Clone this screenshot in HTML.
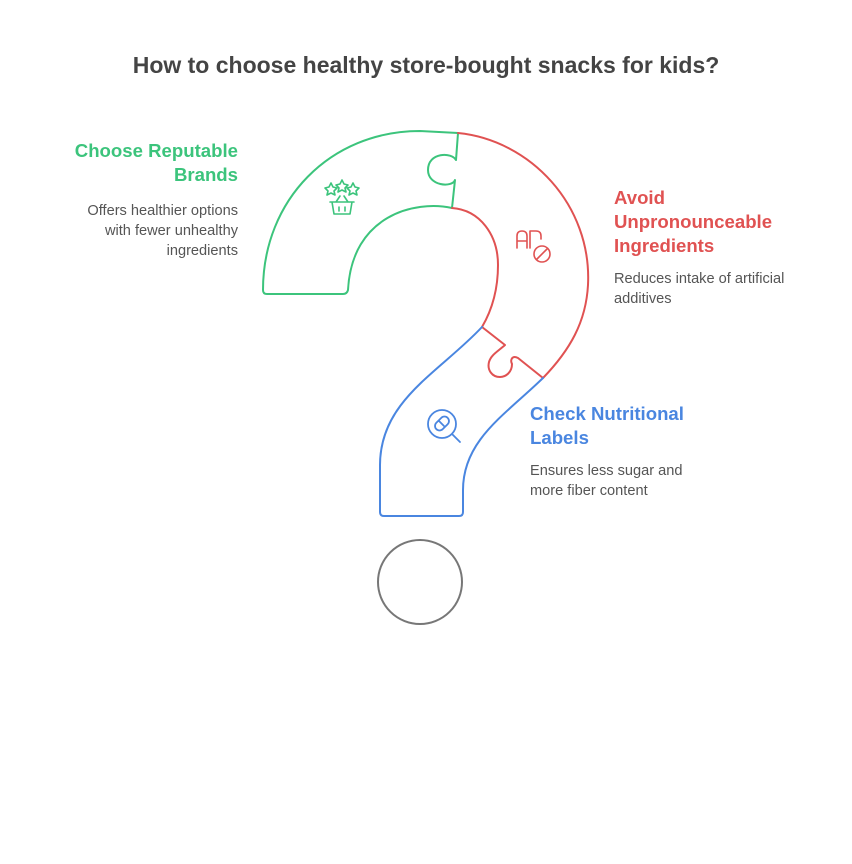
<!DOCTYPE html>
<html><head><meta charset="utf-8"><style>
body{margin:0;background:#fff;width:852px;height:864px;position:relative;font-family:"Liberation Sans",sans-serif;overflow:hidden}
.t{position:absolute;font-weight:bold}
.d{position:absolute;font-size:14.6px;color:#555;line-height:20px}
</style></head><body>
<div class="t" style="left:0;width:852px;top:52px;text-align:center;font-size:23px;color:#444">How to choose healthy store-bought snacks for kids?</div>
<div class="t" style="right:614px;top:139px;text-align:right;font-size:18.6px;line-height:24px;color:#3cc47c">Choose Reputable<br>Brands</div>
<div class="d" style="right:614px;top:201px;text-align:right">Offers healthier options<br>with fewer unhealthy<br>ingredients</div>
<div class="t" style="left:614px;top:186px;font-size:18.6px;line-height:24px;color:#e05252">Avoid<br>Unpronounceable<br>Ingredients</div>
<div class="d" style="left:614px;top:269px">Reduces intake of artificial<br>additives</div>
<div class="t" style="left:530px;top:402px;font-size:18.6px;line-height:24px;color:#4a86e0">Check Nutritional<br>Labels</div>
<div class="d" style="left:530px;top:461px">Ensures less sugar and<br>more fiber content</div>
<svg width="852" height="864" style="position:absolute;left:0;top:0" fill="none" stroke-width="2" stroke-linejoin="round" stroke-linecap="round">
<path stroke="#3cc47c" d="M263,290 C263,200 330,131 420,131 L458,133 L456,160 C452,152 428,152 428,170 C428,186 452,188 455,180 L452,208 C415,200 352,215 348,290 Q347,294 343,294 L267,294 Q263,294 263,290 Z"/>
<path stroke="#e05252" d="M458,133 C530,140 592,205 588,285 C586,322 570,350 543,378 L518,358 C512,355 510,360 512,364 C512,372 506,377 500,377 C492,377 487,370 489,362 C491,355 497,352 505,345 L482,327 C492,310 498,290 498,265 C498,235 480,210 452,208"/>
<path stroke="#4a86e0" d="M482,327 C440,372 380,400 380,465 L380,512 Q380,516 384,516 L459,516 Q463,516 463,512 L463,490 C463,440 505,415 543,378"/>
<circle cx="420" cy="582" r="42" stroke="#777"/>
<g stroke="#3cc47c" stroke-width="1.6">
<path d="M331,183 l2,4 4,1 -3,3 1,4 -4,-2 -4,2 1,-4 -3,-3 4,-1z"/>
<path d="M342,180 l2,4 4,1 -3,3 1,4 -4,-2 -4,2 1,-4 -3,-3 4,-1z"/>
<path d="M353,183 l2,4 4,1 -3,3 1,4 -4,-2 -4,2 1,-4 -3,-3 4,-1z"/>
<path d="M330,202 h24 M332,202 l2,12 h16 l2,-12 M339,207 v4 M345,207 v4 M336,202 l4,-6 M348,202 l-4,-6"/>
</g>
<g stroke="#e05252" stroke-width="1.6">
<path d="M517,248 v-12 q0,-5 5,-5 q5,0 5,5 v12 M517,241 h10 M530,248 v-17 h6 q5,0 5,5 v3"/>
<circle cx="542" cy="254" r="8"/><path d="M537,259 l10,-10"/>
</g>
<g stroke="#4a86e0" stroke-width="1.8">
<circle cx="442" cy="424" r="14"/><path d="M452,434 l8,8"/>
<rect x="434" y="419" width="16" height="9" rx="4.5" transform="rotate(-45 442 423.5)"/>
<path d="M439,421 l5,5"/>
</g>
</svg>
</body></html>
